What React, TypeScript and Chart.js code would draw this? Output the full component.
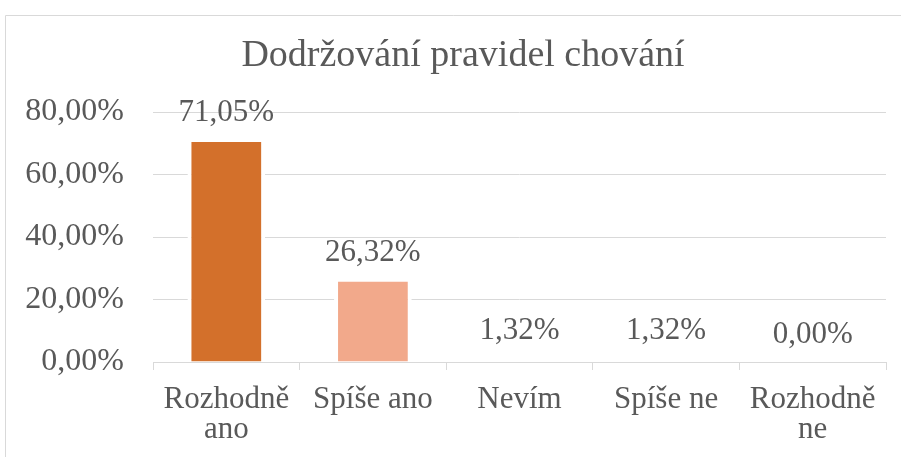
import React, { useEffect, useRef } from "react";
import { Chart, registerables } from "chart.js";

Chart.register(...registerables);

const TITLE = "Dodržování pravidel chování";
const CATEGORIES: (string | string[])[] = [
  ["Rozhodně", "ano"],
  "Spíše ano",
  "Nevím",
  "Spíše ne",
  ["Rozhodně", "ne"],
];
const VALUES = [71.05, 26.32, 1.32, 1.32, 0.0];
const BAR_COLORS = ["#D3702B", "#F2A98B", "#FFFFFF", "#FFFFFF", "#FFFFFF"];
const Y_MIN = 0;
const Y_MAX = 80;
const Y_STEP = 20;

const TEXT = "#595959";
const GRID = "#D9D9D9";
const FONT = "'Liberation Serif', 'Times New Roman', serif";

const fmt = (v: number) => v.toFixed(2).replace(".", ",") + "%";

const frameTitleLabels = {
  id: "frameTitleLabels",
  beforeDraw(chart: any) {
    const ctx = chart.ctx;
    ctx.save();
    ctx.strokeStyle = GRID;
    ctx.lineWidth = 1;
    ctx.beginPath();
    ctx.moveTo(5.5, chart.height);
    ctx.lineTo(5.5, 15.5);
    ctx.lineTo(chart.width, 15.5);
    ctx.stroke();
    // title, centred on the (wider) chart frame
    ctx.fillStyle = TEXT;
    ctx.font = `38px ${FONT}`;
    ctx.textAlign = "center";
    ctx.textBaseline = "middle";
    ctx.fillText(TITLE, 463, 56);
    ctx.restore();
  },
  afterDatasetsDraw(chart: any) {
    const ctx = chart.ctx;
    const meta = chart.getDatasetMeta(0);
    const data = chart.data.datasets[0].data as number[];
    const yScale = chart.scales.y;
    ctx.save();
    ctx.fillStyle = TEXT;
    ctx.font = `31px ${FONT}`;
    ctx.textAlign = "center";
    ctx.textBaseline = "alphabetic";
    meta.data.forEach((bar: any, i: number) => {
      const top = yScale.getPixelForValue(data[i]);
      ctx.fillText(fmt(data[i]), bar.x, top - 19);
    });
    ctx.restore();
  },
};

export default function App() {
  const ref = useRef<HTMLCanvasElement>(null);
  useEffect(() => {
    document.body.style.margin = "0";
    const chart = new Chart(ref.current!, {
      type: "bar",
      data: {
        labels: CATEGORIES,
        datasets: [
          {
            data: VALUES,
            backgroundColor: BAR_COLORS,
            borderColor: "#FFFFFF",
            borderWidth: { top: 2, left: 4, right: 4, bottom: 0 },
            borderSkipped: "start",
            barPercentage: 0.53,
            categoryPercentage: 1,
          },
        ],
      },
      options: {
        responsive: false,
        animation: false,
        devicePixelRatio: 1,
        layout: { padding: { left: 0, right: 15, top: 112, bottom: 0 } },
        plugins: {
          legend: { display: false },
          tooltip: { enabled: false },
          title: { display: false },
        },
        scales: {
          x: {
            grid: {
              offset: true,
              drawOnChartArea: false,
              drawTicks: true,
              tickLength: 8,
              color: GRID,
            },
            border: { display: true, color: GRID },
            ticks: {
              color: TEXT,
              font: { family: FONT, size: 31, lineHeight: 30 / 31 },
              padding: 15,
              maxRotation: 0,
              minRotation: 0,
              autoSkip: false,
            },
            afterFit(scale: any) {
              scale.height = 95;
            },
          },
          y: {
            min: Y_MIN,
            max: Y_MAX,
            ticks: {
              stepSize: Y_STEP,
              color: TEXT,
              font: { family: FONT, size: 32 },
              padding: 29,
              callback: (v: any) => fmt(Number(v)),
            },
            grid: { color: GRID, drawTicks: false },
            border: { display: false },
            afterFit(scale: any) {
              scale.width = 153;
            },
          },
        },
      },
      plugins: [frameTitleLabels],
    });
    return () => chart.destroy();
  }, []);
  return (
    <div style={{ width: 901, height: 457, position: "relative", background: "#fff" }}>
      <canvas ref={ref} width={901} height={457} />
    </div>
  );
}
